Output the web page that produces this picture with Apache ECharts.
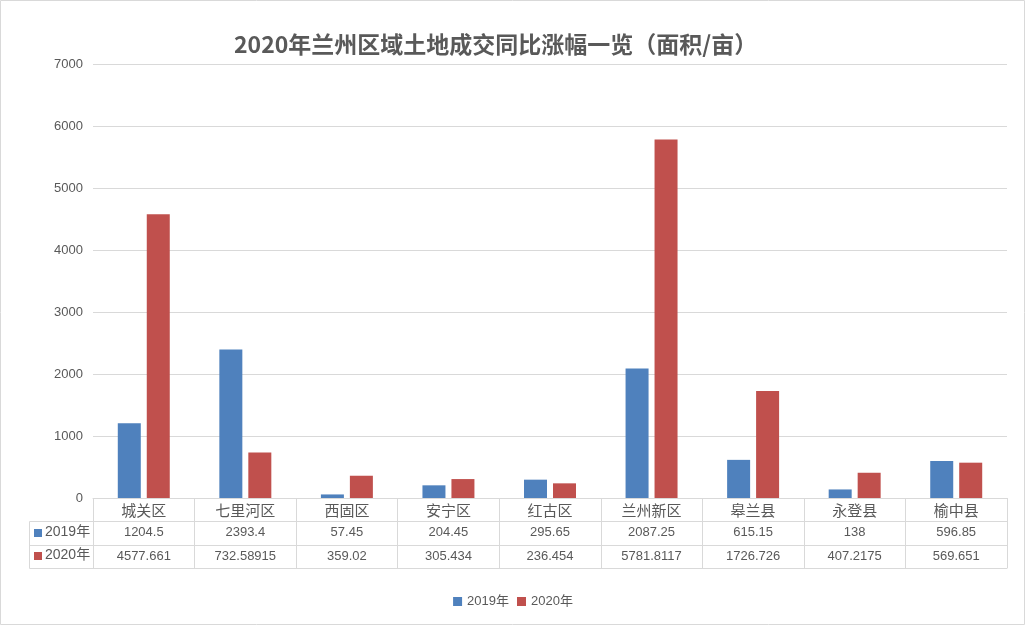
<!DOCTYPE html>
<html><head><meta charset="utf-8">
<script src="https://cdn.jsdelivr.net/npm/echarts@6/dist/echarts.min.js"></script>
<style>html,body{margin:0;padding:0;background:#fff}#c{width:1026px;height:626px}</style>
</head><body><div id="c"></div>
<script>
const categories = ['城关区','七里河区','西固区','安宁区','红古区','兰州新区','皋兰县','永登县','榆中县'];
const seriesNames = ['2019年','2020年'];
const values2019 = [1204.5, 2393.4, 57.45, 204.45, 295.65, 2087.25, 615.15, 138, 596.85];
const values2020 = [4577.661, 732.58915, 359.02, 305.434, 236.454, 5781.8117, 1726.726, 407.2175, 569.651];
const yTicks = {min: 0, max: 7000, interval: 1000};
const titleText = '2020年兰州区域土地成交同比涨幅一览（面积/亩）';

const colors = ['#4F81BD', '#C0504D'];
const txt = '#595959';
const lineC = '#d9d9d9';
const FONT = '"Noto Sans CJK SC", "Noto Sans", sans-serif';
const NUMFONT = '"Liberation Sans", "Noto Sans CJK SC", sans-serif';

const chart = echarts.init(document.getElementById('c'));
function tableAxis(idx, offset, rowData, showTick) {
  return {
    type: 'category', data: categories, gridIndex: 0, position: 'bottom', offset: offset,
    boundaryGap: true,
    axisLine: {show: true, lineStyle: {color: lineC, width: 1}},
    axisTick: {show: showTick, length: 70, lineStyle: {color: lineC}},
    axisLabel: rowData ? {
      show: true, interval: 0, margin: 5, color: txt, fontSize: idx === 0 ? 15 : 13,
      fontFamily: idx === 0 ? FONT : NUMFONT,
      formatter: (v, i) => rowData === categories ? v : String(rowData[i])
    } : {show: false},
    splitLine: {show: false}
  };
}
chart.setOption({
  animation: false,
  textStyle: {fontFamily: FONT},
  title: {text: titleText, left: 229, top: 28,
    textStyle: {fontSize: 23, fontWeight: 'bold', color: txt, fontFamily: FONT}},
  legend: {data: seriesNames, bottom: 13, left: 'center', itemWidth: 9, itemHeight: 9, itemGap: 8,
    icon: 'rect', textStyle: {color: txt, fontSize: 13, fontFamily: NUMFONT}},
  grid: {left: 93, right: 19, top: 64, bottom: 128, containLabel: false},
  xAxis: [
    tableAxis(0, 0, categories, true),
    tableAxis(1, 23, values2019, false),
    tableAxis(2, 47, values2020, false),
    tableAxis(3, 70, null, false)
  ],
  yAxis: {type: 'value', min: yTicks.min, max: yTicks.max, interval: yTicks.interval,
    axisLine: {show: false}, axisTick: {show: false},
    axisLabel: {color: txt, fontSize: 13, margin: 10, fontFamily: NUMFONT, formatter: v => String(v)},
    splitLine: {lineStyle: {color: lineC}}},
  series: [
    {name: seriesNames[0], type: 'bar', data: values2019, barWidth: 23, barGap: '26%', itemStyle: {color: colors[0]}},
    {name: seriesNames[1], type: 'bar', data: values2020, barWidth: 23, itemStyle: {color: colors[1]}}
  ],
  graphic: [
    {type: 'rect', shape: {x: 0.5, y: 0.5, width: 1024, height: 624}, style: {fill: null, stroke: lineC, lineWidth: 1}, silent: true},
    {type: 'line', shape: {x1: 29.5, y1: 521.5, x2: 93, y2: 521.5}, style: {stroke: lineC}},
    {type: 'line', shape: {x1: 29.5, y1: 545.5, x2: 93, y2: 545.5}, style: {stroke: lineC}},
    {type: 'line', shape: {x1: 29.5, y1: 568.5, x2: 93, y2: 568.5}, style: {stroke: lineC}},
    {type: 'line', shape: {x1: 29.5, y1: 521.5, x2: 29.5, y2: 568.5}, style: {stroke: lineC}},
    {type: 'rect', shape: {x: 34, y: 529, width: 8, height: 8}, style: {fill: colors[0]}},
    {type: 'text', left: 45, top: 525, style: {text: seriesNames[0], fill: txt, font: '14px ' + NUMFONT}},
    {type: 'rect', shape: {x: 34, y: 552, width: 8, height: 8}, style: {fill: colors[1]}},
    {type: 'text', left: 45, top: 548, style: {text: seriesNames[1], fill: txt, font: '14px ' + NUMFONT}}
  ]
});
</script></body></html>
